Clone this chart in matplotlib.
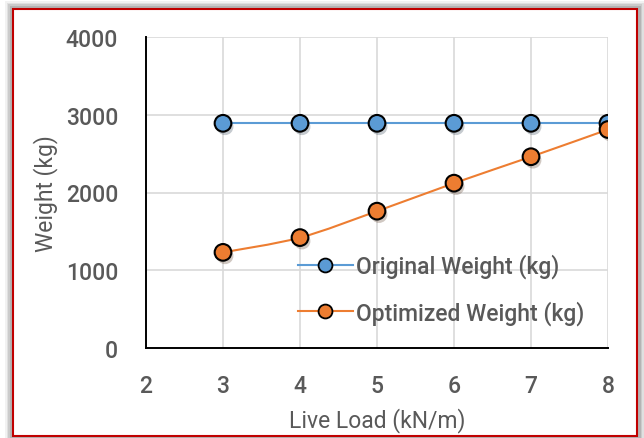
import matplotlib
matplotlib.use("Agg")
import matplotlib.pyplot as plt
import matplotlib.patheffects as pe
from matplotlib.patches import Rectangle, PathPatch
from matplotlib.path import Path
import numpy as np

plt.rcParams['font.family'] = ['Roboto', 'DejaVu Sans']
plt.rcParams['font.weight'] = 'medium'

# live load (kN/m) and beam weights (kg)
live_load = [3, 4, 5, 6, 7, 8]
original_weight = [2890, 2890, 2890, 2890, 2890, 2890]
optimized_weight = [1230, 1420, 1760, 2120, 2460, 2810]

xticks = [2, 3, 4, 5, 6, 7, 8]
yticks = [0, 1000, 2000, 3000, 4000]

blue = '#5B9BD5'
orange = '#ED7D31'
grey_txt = '#595959'
fs = 16.5

fig = plt.figure(figsize=(6.44, 4.39), dpi=100)

# soft grey shadow and red frame around the chart
for k, a in enumerate([0.05, 0.07, 0.09, 0.11]):
    d = (4 - k) * 1.5
    fig.patches.append(Rectangle(((11 - d) / 644, (2 - d) / 439),
                                 (628 + 2 * d) / 644, (429 + 2 * d) / 439,
                                 transform=fig.transFigure, facecolor='black',
                                 edgecolor='none', alpha=a, zorder=0))
fig.patches.append(Rectangle((13 / 644, 2 / 439), 624 / 644, 427 / 439,
                             transform=fig.transFigure, facecolor='white',
                             edgecolor='#C00000', lw=1.5, zorder=1))

ax = fig.add_axes([146 / 644, 1 - 349 / 439, 462 / 644, 311 / 439])
ax.set_facecolor('none')
ax.set_zorder(2)

ax.set_xlim(2, 8)
ax.set_ylim(0, 4000)
ax.set_xticks(xticks)
ax.set_yticks(yticks)
ax.grid(True, color='#D9D9D9', lw=1.2)
ax.set_axisbelow(True)
for s in ['top', 'right']:
    ax.spines[s].set_visible(False)
for s in ['left', 'bottom']:
    ax.spines[s].set_color('black')
    ax.spines[s].set_linewidth(1.4)
ax.tick_params(length=0, labelsize=fs, colors=grey_txt)
ax.tick_params(axis='y', pad=20)
ax.tick_params(axis='x', pad=19)

ax.set_xlabel('Live Load (kN/m)', fontsize=fs, color=grey_txt, labelpad=7)
ax.set_ylabel('Weight (kg)', fontsize=fs, color=grey_txt, labelpad=6)

shadow = [pe.SimplePatchShadow(offset=(1.5, -2.5), alpha=0.25), pe.Normal()]

# original weight: straight line
ax.plot(live_load, original_weight, color=blue, lw=1.5, zorder=3)
ax.plot(live_load, original_weight, ls='none', marker='o', ms=12,
        mfc=blue, mec='black', mew=1.5, zorder=4, path_effects=shadow)

# optimized weight: smoothed curve through the points (cubic Bezier segments)
px = np.array(live_load, dtype=float)
py = np.array(optimized_weight, dtype=float)
verts = [(px[0], py[0])]
codes = [Path.MOVETO]
n = len(px)
for i in range(n - 1):
    p0 = (px[max(i - 1, 0)], py[max(i - 1, 0)])
    p1 = (px[i], py[i])
    p2 = (px[i + 1], py[i + 1])
    p3 = (px[min(i + 2, n - 1)], py[min(i + 2, n - 1)])
    c1 = (p1[0] + (p2[0] - p0[0]) / 6, p1[1] + (p2[1] - p0[1]) / 6)
    c2 = (p2[0] - (p3[0] - p1[0]) / 6, p2[1] - (p3[1] - p1[1]) / 6)
    verts += [c1, c2, p2]
    codes += [Path.CURVE4] * 3
ax.add_patch(PathPatch(Path(verts, codes), facecolor='none',
                       edgecolor=orange, lw=1.5, zorder=3))
ax.plot(live_load, optimized_weight, ls='none', marker='o', ms=12,
        mfc=orange, mec='black', mew=1.5, zorder=5, path_effects=shadow)

# legend handles
h1, = ax.plot([], [], color=blue, lw=1.5, marker='o', ms=10,
              mfc=blue, mec='black', mew=1.3)
h2, = ax.plot([], [], color=orange, lw=1.5, marker='o', ms=10,
              mfc=orange, mec='black', mew=1.3)
leg = fig.legend([h1, h2], ['Original Weight (kg)', 'Optimized Weight (kg)'],
                 loc='center left', bbox_to_anchor=(277 / 644, 1 - 290 / 439),
                 frameon=False, fontsize=fs, handlelength=2.4,
                 handletextpad=0.15, labelspacing=0.95, numpoints=1)
for t in leg.get_texts():
    t.set_color(grey_txt)
leg.set_zorder(6)

fig.savefig('out.png', dpi=100)
